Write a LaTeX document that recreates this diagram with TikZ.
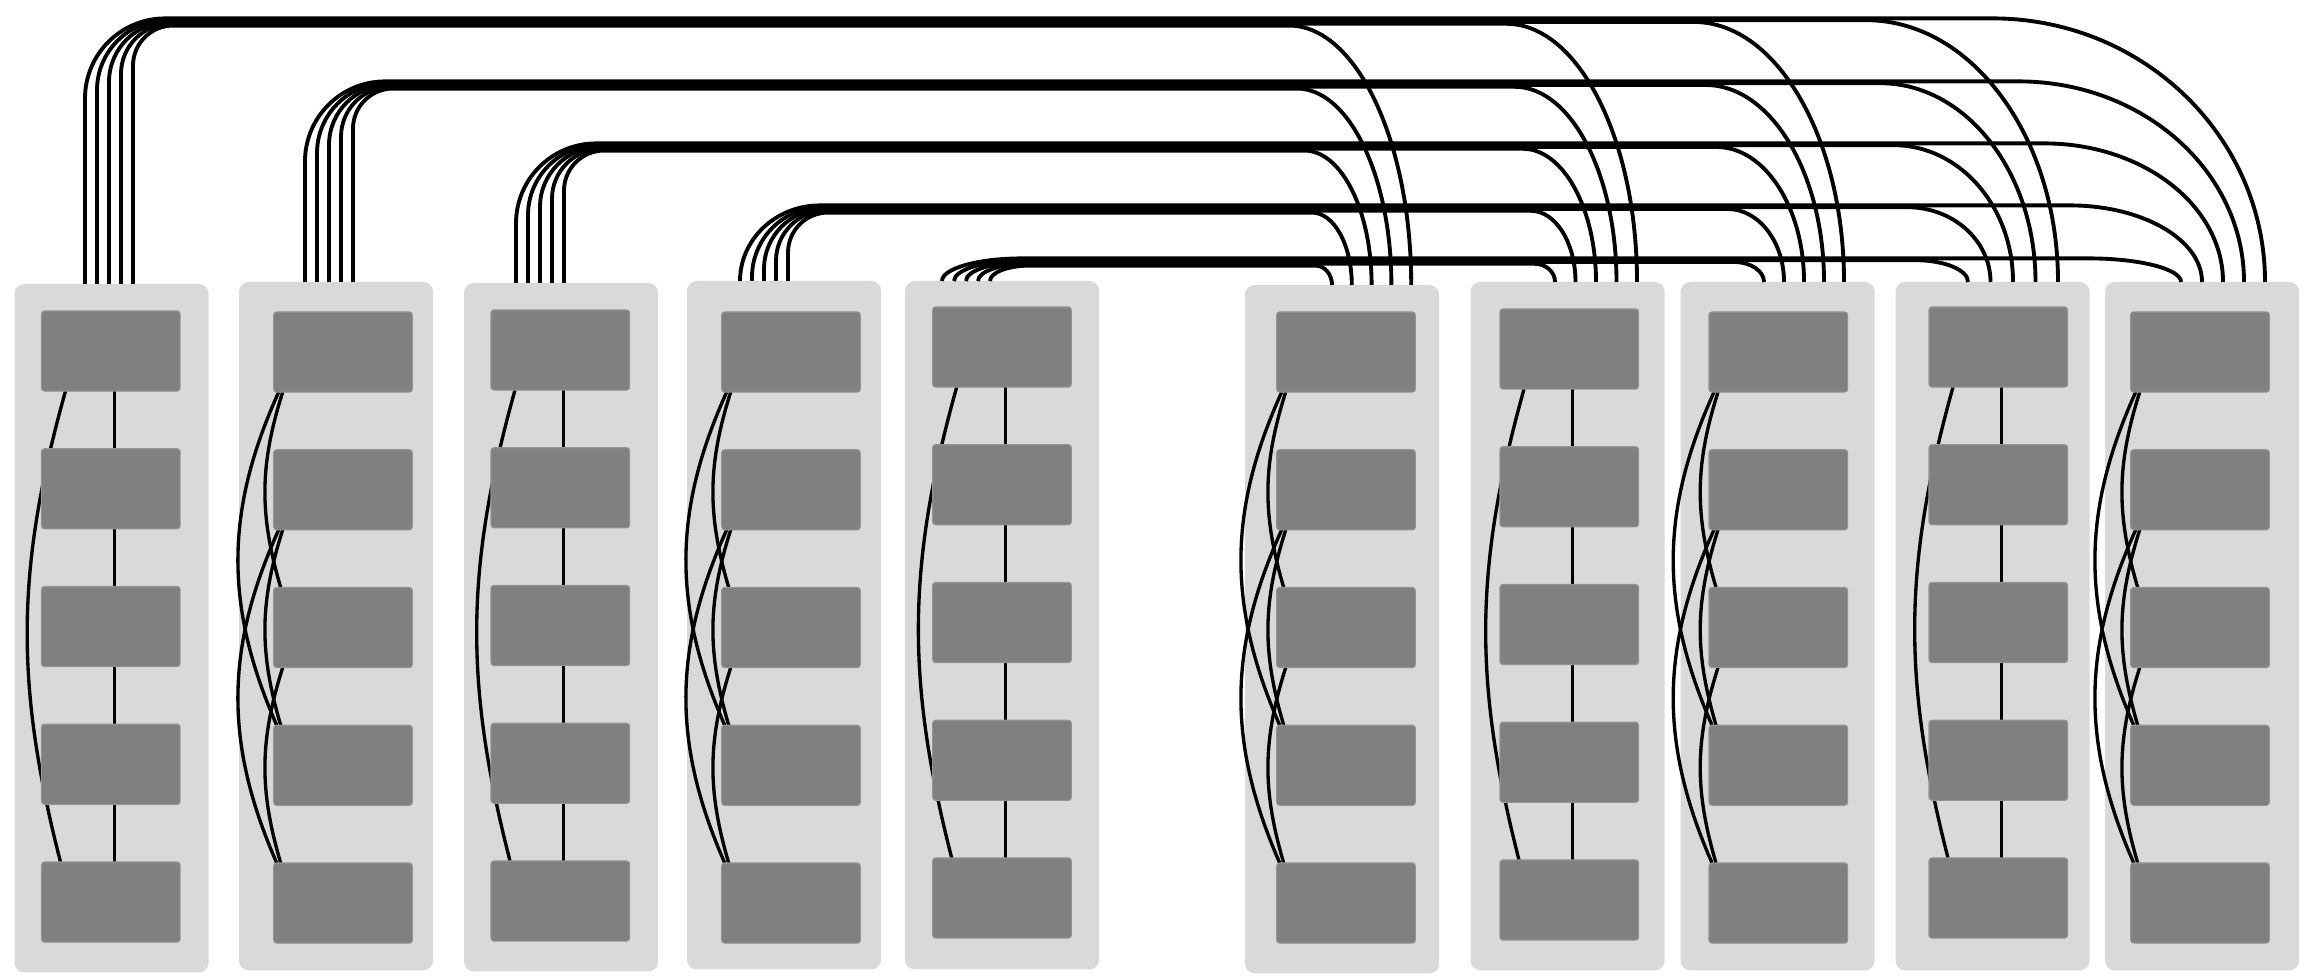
\documentclass[tikz,border=0pt]{standalone}
\usepackage{tikz}
\usepackage{xcolor}
\usetikzlibrary{calc}
\definecolor{panelColor}{RGB}{217, 217, 217}
\definecolor{unitColor}{RGB}{128, 128, 128}
\pgfdeclarelayer{panels}
\pgfdeclarelayer{wires}
\pgfsetlayers{panels,wires,main}

\begin{document}
\begin{tikzpicture}[x=0.01cm, y=-0.01cm,
    panel/.style={rectangle, fill=panelColor, rounded corners=2.8pt, minimum width=1.94cm, minimum height=6.88cm, inner sep=0pt, outer sep=0pt, anchor=north west},
    unit/.style={rectangle, fill=unitColor, draw=unitColor!85!white, line width=0.3pt, rounded corners=0.8pt, minimum width=1.385cm, minimum height=0.8cm, inner sep=0pt, outer sep=0pt, anchor=north west},
    wire/.style={line width=1.1pt},
    link/.style={line width=0.95pt}]
    \useasboundingbox (0,0) rectangle (2306,980);

    % Panels, five units in each
    \foreach \g/\gx/\gy/\bx/\by in {1/14.5/284/41.5/311, 2/239/282/273.7/312, 3/464/283/491/310, 4/687/281/721.7/312, 5/905/281/932.7/307,
                                    6/1245/285/1276.7/312, 7/1470.5/282/1500/309, 8/1680.5/282/1709/312, 9/1895.5/282/1929/307, 10/2105/282/2130.7/312} {
        \begin{pgfonlayer}{panels}
            \node[panel] (p\g) at (\gx,\gy) {};
        \end{pgfonlayer}
        \foreach \r in {1,...,5}
            \node[unit] (b\g-\r) at (\bx,{\by+137.75*(\r-1)}) {};
    }

    \begin{pgfonlayer}{wires}
    % Ring panels
    \foreach \g in {1,3,5,7,9} {
        \foreach \r [evaluate=\r as \s using int(\r+1)] in {1,...,4}
            \draw[link] ($(b\g-\r.south)+(3.5,0)$) -- ($(b\g-\s.north)+(3.5,0)$);
        \draw[link] ($(b\g-1.south west)+(24,0)$) to[bend right=15] ($(b\g-5.north west)+(19,0)$);
    }
    % Star panels
    \foreach \g in {2,4,6,8,10} {
        \foreach \r/\s in {1/3,2/4,3/5}
            \draw[link] ($(b\g-\r.south west)+(9,0)$) to[bend right=17] ($(b\g-\s.north west)+(7,0)$);
        \foreach \r/\s in {1/4,2/5}
            \draw[link] ($(b\g-\r.south west)+(5,0)$) to[bend right=24] ($(b\g-\s.north west)+(3,0)$);
    }

    % Bundles: wire k of left panel i runs to right panel 11-k
    \foreach \j/\rx/\rt/\eo/\ed/\pa/\pb in {6/1245/285/87/19.8/8/0.44, 7/1470.5/282/84.5/20.5/12/0.46, 8/1680.5/282/83.5/20/20/0.5,
                                           9/1895.5/282/72.5/22.5/40/0.58, 10/2105/282/76/21/75/0.75}
    \foreach \i/\lx/\lt/\lo/\ly in {1/14.5/284/70.5/22, 2/239/282/66/85, 3/464/283/52/147, 4/687/281/53/209, 5/905/281/37/262} {
        \pgfmathsetmacro\wk{11-\j}
        \pgfmathsetmacro\wx{\lx+\lo+12*(\wk-1)}
        \pgfmathsetmacro\wy{\ly+1.8*(\wk-3)}
        \pgfmathsetmacro\radA{40+10*(5-\wk)}
        \pgfmathsetmacro\radB{min(\radA,\lt-\wy)}
        \pgfmathsetmacro\tx{\rx+\eo+\ed*(5-\i)}
        \pgfmathsetmacro\peely{\rt-\wy}
        \pgfmathsetmacro\peelx{\pa+\pb*\peely}
        \draw[wire] ($(p\i.north west)+(\wx-\lx,0)$) -- (\wx,\wy+\radB)
            .. controls (\wx,\wy+0.448*\radB) and (\wx+0.448*\radA,\wy) .. (\wx+\radA,\wy)
            -- (\tx-\peelx,\wy)
            .. controls (\tx-0.448*\peelx,\wy) and (\tx,\rt-0.552*\peely) .. ($(p\j.north west)+(\tx-\rx,0)$);
    }
    \end{pgfonlayer}
\end{tikzpicture}
\end{document}
